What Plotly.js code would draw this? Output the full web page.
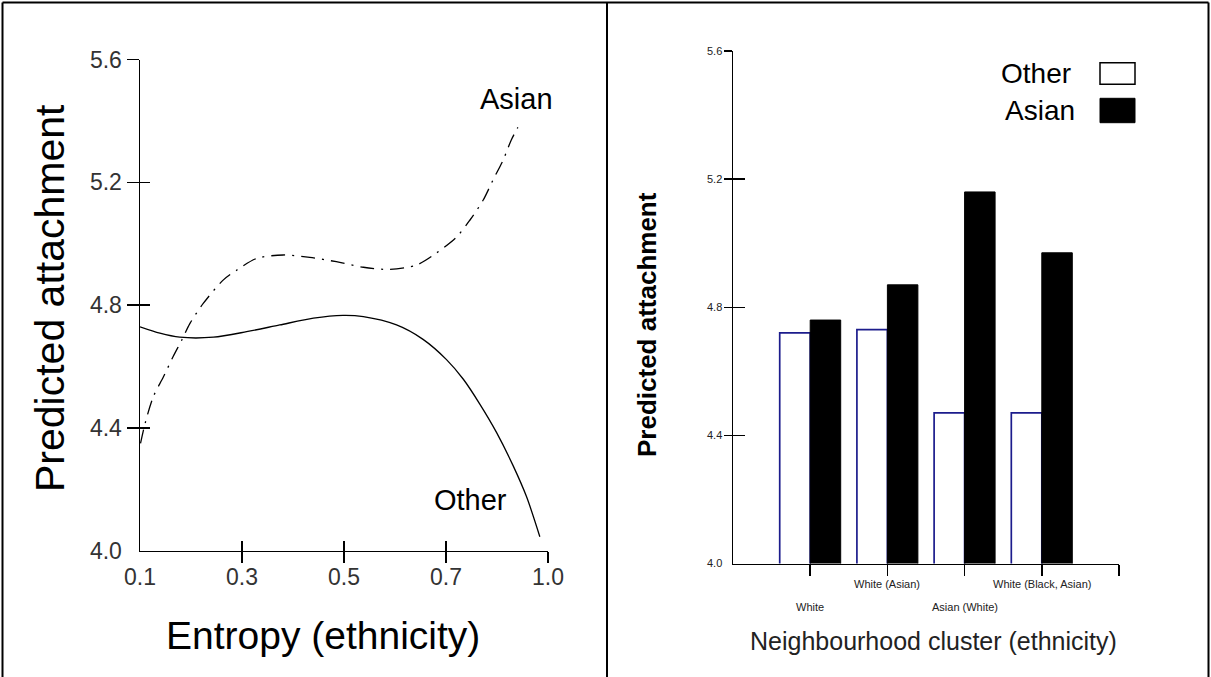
<!DOCTYPE html>
<html><head><meta charset="utf-8">
<script src="https://cdn.plot.ly/plotly-3.0.1.min.js"></script>
<style>html,body{margin:0;padding:0;background:#fff}#chart{width:1211px;height:677px}</style>
</head><body><div id="chart"></div>
<script>
// ---- Left panel: predicted attachment by entropy (ethnicity) ----
const otherEntropyX = [0.100,0.139,0.178,0.244,0.309,0.374,0.440,0.498,0.538,0.603,0.655,0.701,0.734,0.766,0.799,0.832,0.858,0.884];
const otherEntropyY = [4.729,4.708,4.695,4.695,4.713,4.735,4.757,4.766,4.762,4.735,4.688,4.622,4.558,4.478,4.385,4.275,4.175,4.045];
const asianEntropyX = [0.101,0.110,0.126,0.146,0.165,0.182,0.198,0.224,0.263,0.290,0.329,0.381,0.433,0.485,0.538,0.590,0.642,0.680,0.721,0.747,0.773,0.792,0.812,0.828,0.841];
const asianEntropyY = [4.349,4.414,4.501,4.566,4.632,4.686,4.740,4.805,4.881,4.914,4.952,4.963,4.955,4.941,4.923,4.916,4.930,4.968,5.022,5.077,5.142,5.207,5.272,5.338,5.379];
const entropyTickVals = [0.1,0.3,0.5,0.7,0.9];
const entropyTickText = ['0.1','0.3','0.5','0.7','1.0'];
const attachTickVals = [4.0,4.4,4.8,5.2,5.6];
const attachTickText = ['4.0','4.4','4.8','5.2','5.6'];
// ---- Right panel: predicted attachment by neighbourhood cluster ----
const clusters = ['White','White (Asian)','Asian (White)','White (Black, Asian)'];
const otherCluster = [4.72,4.73,4.47,4.47];
const asianCluster = [4.76,4.87,5.16,4.97];
const seriesNames = ['Other','Asian'];

const W = 1211, H = 677;
const px = v => v / W;
const py = v => 1 - v / H;
const FONT = 'Liberation Sans, Arial, sans-serif';

const leftX = [px(140), px(548)];
const leftY = [py(550.5), py(59.5)];
const rightX = [px(733), px(1119)];
const rightY = [py(563.5), py(51)];

const traces = [
  {type:'scatter', mode:'lines', x: otherEntropyX, y: otherEntropyY, name: seriesNames[0],
   line:{color:'#000', width:1.3, shape:'spline', smoothing:0.8}, xaxis:'x', yaxis:'y', showlegend:false, hoverinfo:'skip'},
  {type:'scatter', mode:'lines', x: asianEntropyX, y: asianEntropyY, name: seriesNames[1],
   line:{color:'#000', width:1.3, shape:'spline', smoothing:0.8, dash:'14px,7px,2px,7px'}, xaxis:'x', yaxis:'y', showlegend:false, hoverinfo:'skip'},
  {type:'bar', x: clusters, y: otherCluster, name: seriesNames[0], xaxis:'x2', yaxis:'y2',
   marker:{color:'#fff', line:{color:'#1c1c8c', width:1.7}}, showlegend:false},
  {type:'bar', x: clusters, y: asianCluster, name: seriesNames[1], xaxis:'x2', yaxis:'y2',
   marker:{color:'#000', line:{color:'#000', width:1}}, showlegend:false},
  // empty helpers so overlay tick axes are built
  {type:'scatter', x:[], y:[], xaxis:'x3', yaxis:'y3', showlegend:false, hoverinfo:'skip'},
  {type:'scatter', x:[], y:[], xaxis:'x4', yaxis:'y4', showlegend:false, hoverinfo:'skip'},
  {type:'scatter', x:[], y:[], xaxis:'x5', yaxis:'y5', showlegend:false, hoverinfo:'skip'},
  {type:'scatter', x:[], y:[], xaxis:'x6', yaxis:'y6', showlegend:false, hoverinfo:'skip'}
];

const tickOnly = (extra) => Object.assign({showgrid:false, zeroline:false, showline:false,
  showticklabels:false, tickmode:'array', tickcolor:'#000', tickwidth:1.5, fixedrange:true}, extra);

const layout = {
  width: W, height: H,
  margin:{l:0,r:0,t:0,b:0,pad:0},
  paper_bgcolor:'#fff', plot_bgcolor:'rgba(0,0,0,0)',
  font:{family:FONT, color:'#000'},
  showlegend:false,
  barmode:'group', bargap:0.21, bargroupgap:0,
  // left panel axes
  xaxis:{domain:leftX, range:[0.1,0.9], anchor:'y', showgrid:false, zeroline:false,
    showline:true, linecolor:'#000', linewidth:1.5, ticks:'', tickmode:'array',
    tickvals: entropyTickVals, ticktext: entropyTickText, ticklabelstandoff:5,
    tickfont:{size:23, color:'#333'}, fixedrange:true},
  yaxis:{domain:leftY, range:[4.0,5.6], anchor:'x', showgrid:false, zeroline:false,
    showline:true, linecolor:'#000', linewidth:1.5, ticks:'', tickmode:'array',
    tickvals: attachTickVals, ticktext: attachTickText, ticklabelstandoff:12,
    tickfont:{size:23, color:'#333'}, fixedrange:true},
  xaxis3: tickOnly({overlaying:'x', anchor:'y', range:[0.1,0.9], tickvals: entropyTickVals.slice(1), ticks:'inside', ticklen:10}),
  yaxis3: tickOnly({overlaying:'y', anchor:'x', range:[4.0,5.6], tickvals: attachTickVals.slice(1), ticks:'inside', ticklen:10}),
  xaxis4: tickOnly({overlaying:'x', anchor:'y', range:[0.1,0.9], tickvals: entropyTickVals.slice(1), ticks:'outside', ticklen:11}),
  yaxis4: tickOnly({overlaying:'y', anchor:'x', range:[4.0,5.6], tickvals: attachTickVals.slice(1), ticks:'outside', ticklen:12}),
  // right panel axes
  xaxis2:{domain:rightX, range:[-1,4], anchor:'y2', type:'category', showgrid:false, zeroline:false,
    showline:true, linecolor:'#000', linewidth:1.5, ticks:'outside', ticklen:11, tickwidth:1.5, tickcolor:'#000',
    tickmode:'array', tickvals: clusters, showticklabels:false, fixedrange:true},
  yaxis2:{domain:rightY, range:[4.0,5.6], anchor:'x2', showgrid:false, zeroline:false,
    showline:true, linecolor:'#000', linewidth:1.5, ticks:'', tickmode:'array',
    tickvals: attachTickVals, ticktext: attachTickText, ticklabelstandoff:7,
    tickfont:{size:11, color:'#222'}, fixedrange:true},
  xaxis5: tickOnly({overlaying:'x2', anchor:'y2', range:[-1,4], tickvals:[4], ticks:'inside', ticklen:10}),
  yaxis5: tickOnly({overlaying:'y2', anchor:'x2', range:[4.0,5.6], tickvals: attachTickVals.slice(1), ticks:'inside', ticklen:12}),
  xaxis6: tickOnly({overlaying:'x2', anchor:'y2', range:[-1,4], tickvals:[4], ticks:'outside', ticklen:11}),
  yaxis6: tickOnly({overlaying:'y2', anchor:'x2', range:[4.0,5.6], tickvals: attachTickVals.slice(1), ticks:'outside', ticklen:8}),
  annotations: [],
  shapes: []
};

const ann = layout.annotations;
ann.push({text:'Predicted attachment', xref:'paper', yref:'paper', x:px(50), y:py(298), textangle:-90,
  xanchor:'center', yanchor:'middle', showarrow:false, font:{size:41, color:'#000'}});
ann.push({text:'Entropy (ethnicity)', xref:'paper', yref:'paper', x:px(323), y:py(635),
  xanchor:'center', yanchor:'middle', showarrow:false, font:{size:39, color:'#000'}});
ann.push({text:seriesNames[1], xref:'paper', yref:'paper', x:px(516), y:py(99),
  xanchor:'center', yanchor:'middle', showarrow:false, font:{size:29, color:'#000'}});
ann.push({text:seriesNames[0], xref:'paper', yref:'paper', x:px(470), y:py(500),
  xanchor:'center', yanchor:'middle', showarrow:false, font:{size:29, color:'#000'}});
ann.push({text:'<b>Predicted attachment</b>', xref:'paper', yref:'paper', x:px(647), y:py(325), textangle:-90,
  xanchor:'center', yanchor:'middle', showarrow:false, font:{size:26, color:'#000'}});
ann.push({text:'Neighbourhood cluster (ethnicity)', xref:'paper', yref:'paper', x:px(933), y:py(641),
  xanchor:'center', yanchor:'middle', showarrow:false, font:{size:25, color:'#222'}});
// legend (text left of swatch)
ann.push({text:seriesNames[0], xref:'paper', yref:'paper', x:px(1073), y:py(73),
  xanchor:'right', yanchor:'middle', showarrow:false, font:{size:28, color:'#000'}});
ann.push({text:seriesNames[1], xref:'paper', yref:'paper', x:px(1077), y:py(110),
  xanchor:'right', yanchor:'middle', showarrow:false, font:{size:28, color:'#000'}});
layout.shapes.push({type:'rect', xref:'paper', yref:'paper', x0:px(1100), x1:px(1135), y0:py(84.3), y1:py(62.7),
  fillcolor:'#fff', line:{color:'#000', width:1.5}});
layout.shapes.push({type:'rect', xref:'paper', yref:'paper', x0:px(1100), x1:px(1135), y0:py(122.7), y1:py(98.3),
  fillcolor:'#000', line:{color:'#000', width:1}});
// staggered category labels
clusters.forEach((c, i) => {
  ann.push({text:c, xref:'x2', yref:'paper', x:c, y: i % 2 === 0 ? py(607) : py(584),
    xanchor:'center', yanchor:'middle', showarrow:false, font:{size:11, color:'#222'}});
});
// panel frame
const frame = {color:'#000', width:2};
layout.shapes.push({type:'line', xref:'paper', yref:'paper', x0:px(2.5), x1:px(2.5), y0:0, y1:py(2.5), line:frame});
layout.shapes.push({type:'line', xref:'paper', yref:'paper', x0:px(2.5), x1:px(1208.5), y0:py(2.5), y1:py(2.5), line:frame});
layout.shapes.push({type:'line', xref:'paper', yref:'paper', x0:px(1208.5), x1:px(1208.5), y0:0, y1:py(2.5), line:frame});
layout.shapes.push({type:'line', xref:'paper', yref:'paper', x0:px(607), x1:px(607), y0:0, y1:py(2.5), line:frame});

Plotly.newPlot('chart', traces, layout, {displayModeBar:false, staticPlot:true});
</script>
</body></html>
